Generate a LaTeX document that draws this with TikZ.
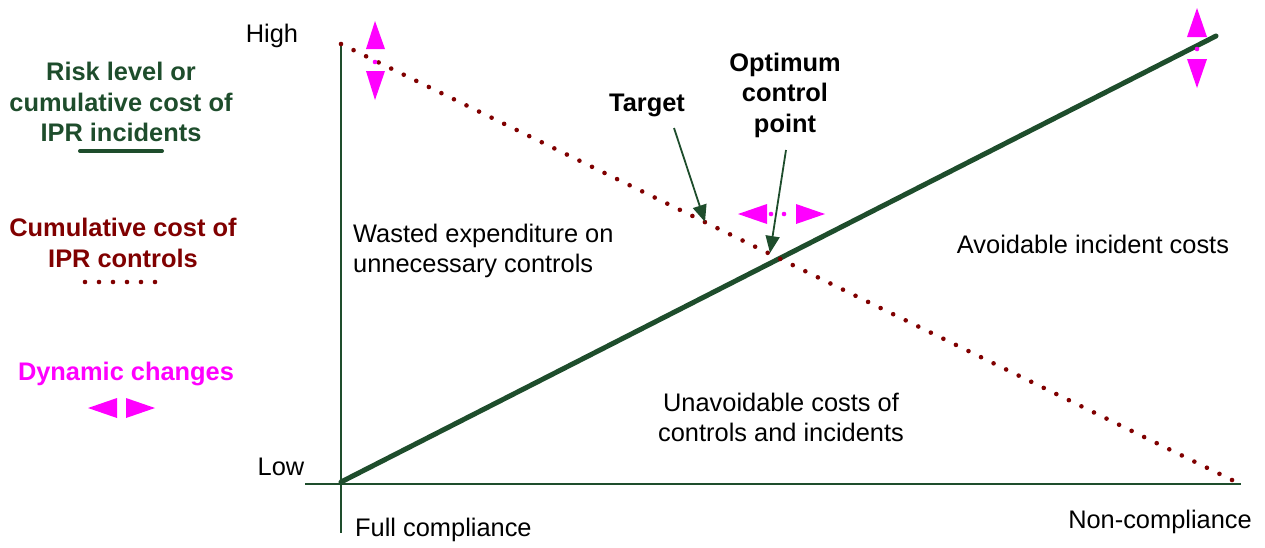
\documentclass[tikz,border=0pt]{standalone}
\usepackage{fontspec}
\setmainfont{Liberation Sans}
\usetikzlibrary{arrows.meta,calc}
\definecolor{dgreen}{HTML}{1E4D2C}
\definecolor{dred}{HTML}{800000}
\definecolor{mag}{HTML}{FF00FF}
\begin{document}
\begin{tikzpicture}[x=1pt,y=-1pt,
  txt/.style={font=\fontsize{25.4}{30}\selectfont, inner sep=0pt, align=center},
  btxt/.style={txt, font=\fontsize{25.4}{30.5}\selectfont\bfseries},
  axis/.style={draw=dgreen, line width=1.5pt},
  callout/.style={draw=dgreen, line width=1.8pt, -{Triangle[length=17pt,width=14pt]}},
  dot/.style={fill=dred},
  magtri/.style={fill=mag, draw=none}]
\useasboundingbox (0,0) rectangle (1265,547);
% axes
\coordinate (ytop) at (341,43);
\coordinate (ybot) at (341,533);
\coordinate (xl) at (305,484);
\coordinate (xr) at (1241,484);
\draw[axis] (ytop) -- (ybot);
\draw[axis] (xl) -- (xr);
% risk line
\coordinate (g0) at (341,482);
\coordinate (g1) at (1216,36);
\draw[dgreen, line width=5pt, line cap=round] (g0) -- (g1);
% cost dotted line
\coordinate (r0) at (341,44);
\coordinate (r1) at (1232,480);
\foreach \i in {0,...,71} \fill[dot] ($(r0)!\i/71!(r1)$) circle (2.3);
% axis labels
\node[txt] (high) at (272,36) {High};
\node[txt] (low) at (281,467) {Low};
\node[txt, anchor=west] (full) at (355,530) {Full compliance};
\node[txt] (non) at (1160,522) {Non-compliance};
% legend
\node[btxt, text=dgreen] (risk) at (121,102) {Risk level or\\cumulative cost of\\IPR incidents};
\coordinate (u0) at (80,151);
\coordinate (u1) at (162,151);
\draw[dgreen, line width=4pt, line cap=round] (u0) -- (u1);
\node[btxt, text=dred] (cost) at (123,243) {Cumulative cost of\\IPR controls};
\foreach \i in {0,...,5} \fill[dot] (85+14*\i,282) circle (2.3);
\node[btxt, text=mag] (dyn) at (126,374) {Dynamic changes};
\fill[magtri] (88,408) -- (117,398) -- (117,418) -- cycle;
\fill[magtri] (155,408) -- (126,398) -- (126,418) -- cycle;
% region texts
\node[txt, align=left, anchor=west] (waste) at (353,251) {Wasted expenditure on\\unnecessary controls};
\node[txt] (avoid) at (1093,244) {Avoidable incident costs};
\node[txt] (unavoid) at (781,417) {Unavoidable costs of\\controls and incidents};
% callouts
\node[btxt] (target) at (647,105) {Target};
\node[btxt] (opt) at (785,95) {Optimum\\control\\point};
\coordinate (tgtS) at (674,128);
\coordinate (tgtE) at (705,222);
\coordinate (optS) at (786,150);
\coordinate (optE) at (770,253);
\draw[callout] (tgtS) -- (tgtE);
\draw[callout] (optS) -- (optE);
% dynamic change markers
\fill[magtri] (738,214) -- (767,204) -- (767,224) -- cycle;
\fill[magtri] (825,214) -- (796,204) -- (796,224) -- cycle;
\fill[mag] (771,214) circle (2.3);
\fill[mag] (784,214) circle (2.3);
\fill[magtri] (375,21) -- (366,49) -- (385,49) -- cycle;
\fill[magtri] (375,100) -- (366,71) -- (385,71) -- cycle;
\fill[mag] (375,62) circle (2.3);
\fill[magtri] (1197,8) -- (1187,37) -- (1207,37) -- cycle;
\fill[magtri] (1197,88) -- (1187,59) -- (1207,59) -- cycle;
\fill[mag] (1197,49) circle (2.3);
\end{tikzpicture}
\end{document}
